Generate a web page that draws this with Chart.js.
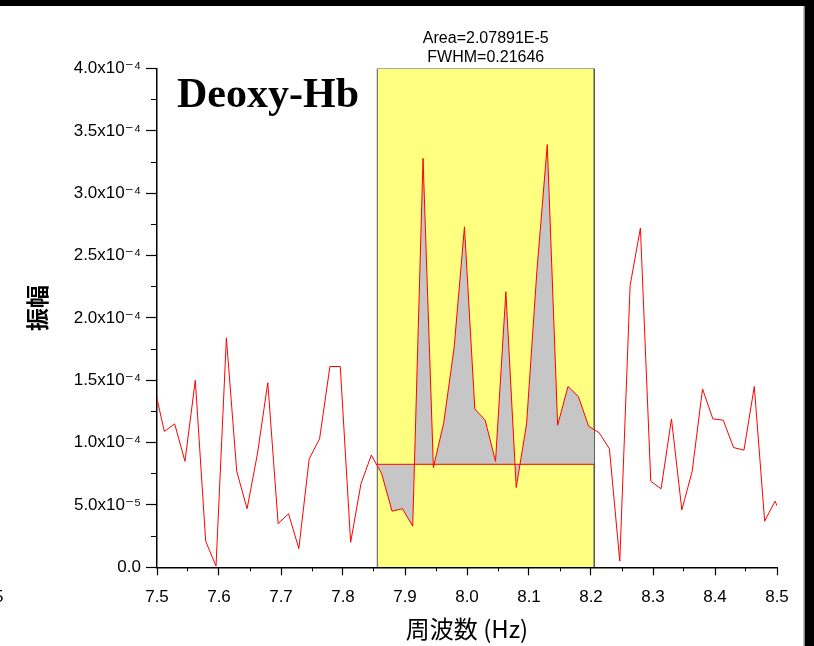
<!DOCTYPE html>
<html><head><meta charset="utf-8">
<script src="https://cdn.jsdelivr.net/npm/chart.js@4.4.1/dist/chart.umd.min.js"></script>
<style>html,body{margin:0;padding:0;background:#fff;overflow:hidden}#wrap{position:relative;width:814px;height:646px}</style>
</head><body><div id="wrap"><canvas id="c" width="814" height="646"></canvas></div>
<script>
// Frequencies (Hz) of the spectrum samples (first and last lie just outside the axis range)
const freqs = [7.4951, 7.5118, 7.5285, 7.5451, 7.5618, 7.5785, 7.5952, 7.6119, 7.6286, 7.6453,
  7.6620, 7.6787, 7.6954, 7.7121, 7.7288, 7.7455, 7.7622, 7.7789, 7.7956, 7.8123,
  7.8290, 7.8457, 7.8624, 7.8791, 7.8958, 7.9124, 7.9291, 7.9458, 7.9625, 7.9792,
  7.9959, 8.0126, 8.0293, 8.0460, 8.0627, 8.0794, 8.0961, 8.1128, 8.1295, 8.1462,
  8.1629, 8.1796, 8.1963, 8.2130, 8.2297, 8.2464, 8.2631, 8.2797, 8.2964, 8.3131,
  8.3298, 8.3465, 8.3632, 8.3799, 8.3966, 8.4133, 8.4300, 8.4467, 8.4634, 8.4801,
  8.4968, 8.5135];
// Amplitudes
const amps = [1.46e-4, 1.09e-4, 1.15e-4, 0.85e-4, 1.50e-4, 0.21e-4, 0.01e-4, 1.84e-4, 0.77e-4, 0.47e-4,
  0.91e-4, 1.48e-4, 0.35e-4, 0.43e-4, 0.15e-4, 0.87e-4, 1.03e-4, 1.61e-4, 1.61e-4, 0.20e-4,
  0.67e-4, 0.90e-4, 0.75e-4, 0.45e-4, 0.47e-4, 0.33e-4, 3.28e-4, 0.80e-4, 1.16e-4, 1.76e-4,
  2.73e-4, 1.27e-4, 1.18e-4, 0.85e-4, 2.21e-4, 0.64e-4, 1.15e-4, 2.38e-4, 3.39e-4, 1.14e-4,
  1.45e-4, 1.37e-4, 1.13e-4, 1.08e-4, 0.95e-4, 0.05e-4, 2.26e-4, 2.72e-4, 0.69e-4, 0.63e-4,
  1.19e-4, 0.46e-4, 0.77e-4, 1.43e-4, 1.19e-4, 1.18e-4, 0.96e-4, 0.94e-4, 1.45e-4, 0.37e-4,
  0.53e-4, 0.35e-4];
// Integration region
const regionFreq = [7.8553, 8.2053];
const regionTop = 4.0e-4;
const baselineAmp = 0.826e-4;
const regionEdgeAmps = [0.82e-4, 1.10e-4];
// Axis ranges / ticks
const xRange = [7.5, 8.5];
const xMajorStep = 0.1, xMinorStep = 0.05;
const yRange = [0, 4.0e-4];
const yMajorStep = 5e-5, yMinorStep = 2.5e-5;
// Texts
const annotationLines = ['Area=2.07891E-5', 'FWHM=0.21646'];
const panelLabel = 'Deoxy-Hb';
const xTitle = '周波数 (Hz)';
const yTitle = '振幅';
const strayText = '5';

const SUP = {'-':'⁻','0':'⁰','1':'¹','2':'²','3':'³','4':'⁴','5':'⁵','6':'⁶','7':'⁷','8':'⁸','9':'⁹'};
function sciLabel(v){
  if (Math.abs(v) < 1e-12) return '0.0';
  let e = Math.floor(Math.log10(v) + 1e-9);
  let m = v / Math.pow(10, e);
  return m.toFixed(1) + 'x10' + String(e).split('').map(c => SUP[c]).join('');
}

const curve = freqs.map((x, i) => ({x, y: amps[i]}));
const inside = freqs.map((x, i) => ({x, y: amps[i]})).filter(p => p.x > regionFreq[0] && p.x < regionFreq[1]);
const shade = [{x: regionFreq[0], y: regionEdgeAmps[0]}, ...inside, {x: regionFreq[1], y: regionEdgeAmps[1]}];
const rect = [{x: regionFreq[0], y: 0}, {x: regionFreq[0], y: regionTop}, {x: regionFreq[1], y: regionTop}, {x: regionFreq[1], y: 0}];
const base = [{x: regionFreq[0], y: baselineAmp}, {x: regionFreq[1], y: baselineAmp}];

Chart.defaults.color = '#000';
Chart.defaults.font.family = "'Liberation Sans', 'DejaVu Sans', sans-serif";

const decor = {
  id: 'decor',
  beforeDraw(chart){
    const ctx = chart.ctx;
    ctx.save(); ctx.fillStyle = '#fff'; ctx.fillRect(0, 0, chart.width, chart.height); ctx.restore();
  },
  afterDraw(chart){
    const ctx = chart.ctx, xs = chart.scales.x, ca = chart.chartArea;
    ctx.save();
    // annotation
    ctx.fillStyle = '#000';
    ctx.font = "16px 'Liberation Sans', sans-serif";
    ctx.textAlign = 'center'; ctx.textBaseline = 'middle';
    const cx = xs.getPixelForValue((regionFreq[0] + regionFreq[1]) / 2);
    ctx.fillText(annotationLines[0], cx, ca.top - 30);
    ctx.fillText(annotationLines[1], cx, ca.top - 11);
    // panel label
    ctx.font = "bold 42px 'Liberation Serif', serif";
    ctx.textAlign = 'left'; ctx.textBaseline = 'alphabetic';
    ctx.fillText(panelLabel, ca.left + 20, ca.top + 38);
    // y title
    ctx.save();
    ctx.translate(37, 308);
    ctx.rotate(-Math.PI / 2);
    ctx.font = "bold 23px 'Noto Sans CJK JP', sans-serif";
    ctx.textAlign = 'center'; ctx.textBaseline = 'middle';
    ctx.fillText(yTitle, 0, 0);
    ctx.restore();
    // stray text at left edge
    ctx.font = "17px 'Liberation Sans', sans-serif";
    ctx.textAlign = 'left'; ctx.textBaseline = 'middle';
    ctx.fillText(strayText, -6, 597);
    // frame
    ctx.fillStyle = '#000';
    ctx.fillRect(0, 0, chart.width, 6);
    ctx.fillStyle = '#888';
    ctx.fillRect(803.5, 6, 1.5, chart.height);
    ctx.fillStyle = '#000';
    ctx.fillRect(805, 0, chart.width - 805, chart.height);
    ctx.restore();
  }
};

new Chart(document.getElementById('c'), {
  type: 'line',
  data: {
    datasets: [
      {data: curve, borderColor: 'rgb(255,0,0)', borderWidth: 1, pointRadius: 0, fill: false, order: 0, tension: 0},
      {data: base, borderColor: 'rgb(255,0,0)', borderWidth: 1, pointRadius: 0, fill: false, order: 1},
      {data: shade, borderWidth: 0, borderColor: 'rgba(0,0,0,0)', pointRadius: 0, fill: {value: baselineAmp}, backgroundColor: '#c6c6c6', order: 2},
      {data: rect, borderColor: '#555', borderWidth: 1, pointRadius: 0, fill: 'origin', backgroundColor: '#ffff80', order: 3}
    ]
  },
  options: {
    responsive: false, animation: false, devicePixelRatio: 1,
    layout: {padding: {left: 0, right: 37, top: 68.5, bottom: 0}},
    plugins: {legend: {display: false}, tooltip: {enabled: false}, title: {display: false}},
    scales: {
      x: {
        type: 'linear', position: 'bottom', weight: 1, min: xRange[0], max: xRange[1],
        ticks: {stepSize: xMajorStep, autoSkip: false, maxRotation: 0, padding: 12, font: {size: 17},
          callback: v => Number(v).toFixed(1)},
        grid: {drawOnChartArea: false, tickLength: 8, color: '#000', tickWidth: 1.2},
        border: {display: true, color: '#000', width: 1.5},
        title: {display: true, text: xTitle, font: {size: 24, family: "'Noto Sans CJK JP', sans-serif"}, padding: {top: 0, bottom: 3}},
        afterFit: s => { s.height = 646 - 567.3; }
      },
      xMinor: {
        type: 'linear', position: 'bottom', weight: 0, min: xRange[0], max: xRange[1],
        ticks: {stepSize: xMinorStep, autoSkip: false, maxRotation: 0, callback: () => ''},
        grid: {drawOnChartArea: false, tickLength: 4, color: '#000', tickWidth: 1},
        border: {display: false},
        afterFit: s => { s.height = 0; }
      },
      y: {
        type: 'linear', position: 'left', weight: 1, min: yRange[0], max: yRange[1],
        ticks: {stepSize: yMajorStep, autoSkip: false, padding: 5, font: {size: 17}, callback: v => sciLabel(v)},
        grid: {drawOnChartArea: false, tickLength: 11, color: '#000', tickWidth: 1.2},
        border: {display: true, color: '#000', width: 1.5},
        afterFit: s => { s.width = 157; }
      },
      yMinor: {
        type: 'linear', position: 'left', weight: 0, min: yRange[0], max: yRange[1],
        ticks: {stepSize: yMinorStep, autoSkip: false, callback: () => ''},
        grid: {drawOnChartArea: false, tickLength: 6, color: '#000', tickWidth: 1},
        border: {display: false},
        afterFit: s => { s.width = 0; }
      }
    }
  },
  plugins: [decor]
});
</script>
</body></html>
